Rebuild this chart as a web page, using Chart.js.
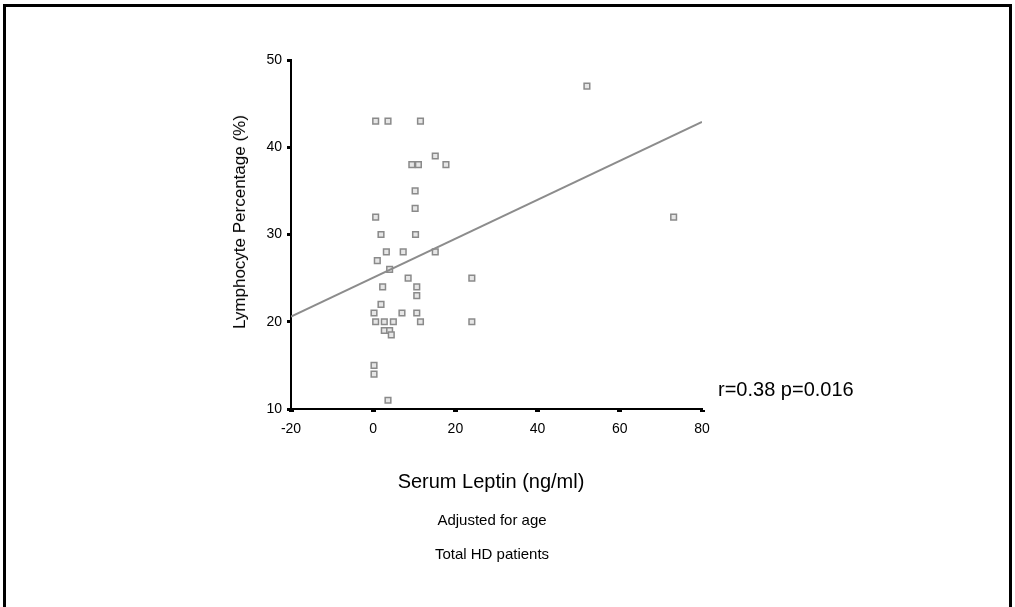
<!DOCTYPE html>
<html>
<head>
<meta charset="utf-8">
<script src="https://cdn.jsdelivr.net/npm/chart.js@4/dist/chart.umd.min.js"></script>
<style>
  body { margin: 0; background: #fff; font-family: "Liberation Sans", Arial, sans-serif; }
  #wrap { position: relative; width: 1015px; height: 607px; overflow: hidden; }
  #frame { position: absolute; left: 3px; top: 4px; width: 1003px; height: 620px;
    border: 3px solid #000; }
  canvas { position: absolute; left: 0; top: 0; }
  .txt { position: absolute; color: #000; white-space: nowrap; transform: translate(-50%, -50%); }
  #ytitle { left: 240px; top: 222px; font-size: 17px; transform: translate(-50%, -50%) rotate(-90deg); }
  #xtitle { left: 491px; top: 481px; font-size: 20px; }
  #sub1 { left: 492px; top: 519px; font-size: 15px; }
  #sub2 { left: 492px; top: 553px; font-size: 15px; }
  #stat { left: 718px; top: 389px; font-size: 20px; transform: translate(0, -50%); }
</style>
</head>
<body>
<div id="wrap">
  <div id="frame"></div>
  <canvas id="chart" width="1015" height="607"></canvas>
  <div class="txt" id="ytitle">Lymphocyte Percentage (%)</div>
  <div class="txt" id="xtitle">Serum Leptin (ng/ml)</div>
  <div class="txt" id="sub1">Adjusted for age</div>
  <div class="txt" id="sub2">Total HD patients</div>
  <div class="txt" id="stat">r=0.38 p=0.016</div>
</div>
<script>
// serum leptin (ng/ml) and lymphocyte % per patient
const leptin = [1.9, 10.3, 3.2, 7.3, 15.1, 1.0, 4.0, 8.5, 24.0, 2.3, 10.6, 10.6, 1.9, 0.2, 7.0, 10.6,
  0.6, 2.7, 4.9, 11.5, 24.0, 2.7, 4.0, 4.4, 0.2, 0.2, 3.6, 0.6, 3.6, 11.5, 15.1, 9.4, 11.0, 17.7,
  10.2, 10.2, 0.6, 52.0, 73.1];
const lymph = [30, 30, 28, 28, 28, 27, 26, 25, 25, 24, 24, 23, 22, 21, 21, 21,
  20, 20, 20, 20, 20, 19, 19, 18.5, 15, 14, 11, 43, 43, 43, 39, 38, 38, 38,
  35, 33, 32, 47, 32];

// fitted line end points
const fitX = [-20, 80];
const fitY = [20.6, 42.9];

const xTicks = [-20, 0, 20, 40, 60, 80];
const yTicks = [10, 20, 30, 40, 50];

const points = leptin.map((v, i) => ({ x: v, y: lymph[i] }));
const fit = fitX.map((v, i) => ({ x: v, y: fitY[i] }));

const tickFont = { family: '"Liberation Sans", Arial, sans-serif', size: 14 };

new Chart(document.getElementById('chart'), {
  type: 'scatter',
  data: {
    datasets: [
      {
        type: 'line',
        data: fit,
        borderColor: '#8c8c8c',
        borderWidth: 2,
        pointRadius: 0,
        fill: false,
      },
      {
        data: points,
        pointStyle: 'rect',
        pointRadius: 4,
        borderWidth: 1.5,
        borderColor: '#8a8a8a',
        backgroundColor: '#e6e6e6',
      },
    ],
  },
  options: {
    responsive: false,
    animation: false,
    layout: { padding: { left: 200, top: 60, right: 313, bottom: 138 } },
    plugins: { legend: { display: false }, tooltip: { enabled: false } },
    scales: {
      x: {
        type: 'linear',
        min: -20,
        max: 80,
        afterFit: (s) => { s.height = 60; },
        afterBuildTicks: (s) => { s.ticks = xTicks.map((v) => ({ value: v })); },
        grid: { drawOnChartArea: false, tickLength: 3, tickWidth: 5, tickColor: '#000' },
        border: { display: true, color: '#000', width: 2 },
        ticks: { color: '#000', font: tickFont, padding: 9, maxRotation: 0 },
      },
      y: {
        type: 'linear',
        min: 10,
        max: 50,
        afterFit: (s) => { s.width = 91; },
        afterBuildTicks: (s) => { s.ticks = yTicks.map((v) => ({ value: v })); },
        grid: { drawOnChartArea: false, tickLength: 4, tickWidth: 3, tickColor: '#000' },
        border: { display: true, color: '#000', width: 2 },
        ticks: { color: '#000', font: tickFont, padding: 5 },
      },
    },
  },
});
</script>
</body>
</html>
